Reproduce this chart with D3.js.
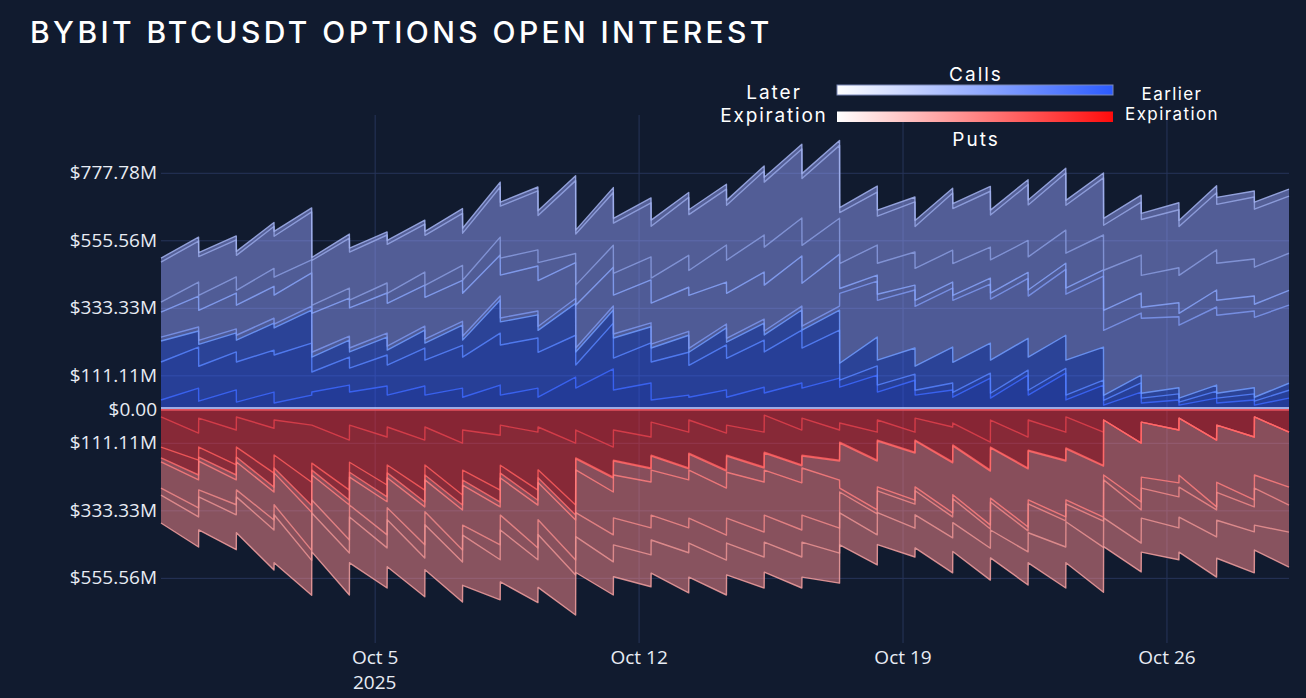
<!DOCTYPE html>
<html>
<head>
<meta charset="utf-8">
<script src="https://cdn.jsdelivr.net/npm/d3@7"></script>
<style>
  html, body { margin: 0; background: #111b2f; }
  svg { display: block; }
</style>
</head>
<body>
<svg id="chart" width="1306" height="698"></svg>
<script>
// trading sessions: each runs 08:00 UTC -> next day 08:00 UTC (daily expiry)
const sessionDays = [
  "2025-09-29", "2025-09-30", "2025-10-01", "2025-10-02", "2025-10-03",
  "2025-10-04", "2025-10-05", "2025-10-06", "2025-10-07", "2025-10-08",
  "2025-10-09", "2025-10-10", "2025-10-11", "2025-10-12", "2025-10-13",
  "2025-10-14", "2025-10-15", "2025-10-16", "2025-10-17", "2025-10-18",
  "2025-10-19", "2025-10-20", "2025-10-21", "2025-10-22", "2025-10-23",
  "2025-10-24", "2025-10-25", "2025-10-26", "2025-10-27", "2025-10-28",
];
const lastSample = "2025-10-29T06:00:00Z";

// open interest in $M, pairs of [session open, session close], earliest expiry first
const callsA = [30,69, 26,63, 23,56, 20,46, 56,79, 56,76, 46,76, 46,69, 39,79, 46,69,
  39,105, 69,132, 63,86, 30,46, 39,63, 39,72, 53,86, 69,102, 72,112, 56,95,
  46,63, 39,102, 36,112, 46,118, 30,79, 13,56, 20,30, 13,36, 20,30, 13,36];
const callsB = [125,135, 115,125, 132,138, 158,171, 66,92, 79,102, 99,125, 115,141, 132,171, 165,165,
  148,138, 76,151, 105,132, 125,141, 105,148, 128,155, 135,174, 132,158, 23,30, 23,20,
  16,23, 16,16, 16,16, 16,16, 16,16, 16,30, 16,20, 10,23, 16,20, 13,26];
const callsC = [69,53, 72,63, 72,89, 89,109, 49,56, 53,59, 49,59, 56,66, 56,109, 76,76,
  72,105, 43,43, 66,53, 46,56, 43,56, 53,56, 56,66, 59,66, 56,95, 82,86,
  79,118, 99,99, 109,105, 109,109, 115,109, 16,26, 16,20, 13,20, 16,20, 13,23];
const callsD = [13,13, 13,13, 16,16, 13,13, 16,13, 13,13, 13,13, 13,13, 13,13, 13,13,
  13,16, 13,13, 13,13, 13,13, 13,13, 13,13, 13,13, 13,13, 230,184, 197,191,
  197,194, 204,194, 201,197, 201,217, 217,234, 214,204, 247,234, 240,257, 257,253, 263,257];
const callsE = [82,102, 99,118, 99,105, 95,109, 128,125, 132,132, 141,135, 138,135, 141,135, 141,148,
  151,118, 141,128, 128,141, 135,145, 174,138, 148,155, 151,165, 141,171, 16,20, 20,16,
  20,20, 16,20, 20,20, 20,20, 20,20, 66,66, 36,46, 39,56, 49,49, 43,49];
const callsF = [33,46, 49,53, 49,59, 59,43, 26,33, 26,33, 33,43, 39,49, 43,59, 56,53,
  59,30, 66,72, 72,76, 82,105, 82,122, 109,122, 125,125, 125,118, 82,99, 102,109,
  105,105, 105,102, 109,105, 109,109, 115,115, 132,125, 105,115, 125,132, 122,122, 122,122];
const callsG = [132,135, 128,122, 115,138, 135,158, 148,165, 158,158, 161,158, 165,171, 155,165, 171,194,
  155,240, 168,174, 165,178, 171,191, 184,184, 181,211, 214,227, 220,240, 168,174, 155,165,
  138,188, 181,184, 148,184, 171,188, 158,188, 148,174, 184,191, 161,188, 194,204, 191,188];
const callsH = [13,13, 13,13, 13,13, 16,13, 10,13, 13,10, 13,13, 13,16, 16,16, 13,13,
  16,16, 13,16, 16,16, 20,16, 16,16, 16,16, 16,16, 16,16, 16,20, 20,16,
  20,16, 16,16, 16,16, 16,16, 16,16, 23,23, 20,23, 20,23, 23,20, 23,23];

const putsA = [26,79, 30,69, 26,63, 36,53, 53,102, 53,92, 59,102, 59,112, 69,86, 53,76,
  59,112, 69,125, 69,92, 43,76, 36,79, 53,76, 20,69, 30,69, 46,76, 36,76,
  30,59, 46,109, 36,92, 36,76, 26,76, 36,112, 43,69, 30,102, 53,92, 26,76];
const putsB = [99,89, 95,115, 99,148, 115,188, 125,165, 122,158, 125,165, 125,171, 132,181, 132,191,
  141,204, 92,99, 99,102, 109,118, 109,122, 99,115, 122,115, 122,99, 63,92, 66,66,
  72,115, 72,92, 89,102, 99,92, 102,109, 0,0, 0,0, 0,0, 0,0, 0,0];
const putsC = [36,49, 33,33, 33,46, 43,76, 23,33, 33,39, 26,39, 33,33, 33,39, 26,33,
  26,33, 3,3, 3,3, 3,3, 3,3, 3,3, 3,3, 3,3, 3,3, 3,3,
  3,3, 3,3, 3,3, 3,3, 3,3, 0,0, 0,0, 0,0, 0,0, 0,0];
const putsD = [13,16, 13,16, 16,16, 16,23, 16,16, 16,16, 16,16, 16,16, 16,16, 16,16,
  16,16, 36,46, 46,43, 46,36, 53,56, 53,46, 56,56, 39,63, 148,161, 151,155,
  151,165, 161,178, 165,191, 161,184, 168,168, 181,194, 181,174, 188,220, 188,207, 191,181];
const putsE = [86,92, 95,82, 92,92, 105,125, 82,115, 92,109, 99,125, 105,132, 132,125, 122,141,
  122,132, 141,141, 141,151, 148,158, 158,155, 151,165, 148,155, 155,158, 13,13, 13,13,
  13,13, 13,13, 13,13, 13,13, 13,13, 16,26, 36,46, 39,10, 33,23, 43,59];
const putsF = [23,30, 23,33, 23,33, 33,33, 43,43, 39,43, 39,43, 43,39, 33,49, 49,39,
  49,49, 79,89, 89,89, 82,82, 82,82, 82,82, 89,89, 89,82, 69,69, 72,79,
  79,69, 79,63, 92,69, 95,86, 59,86, 125,109, 99,102, 99,89, 92,82, 122,89];
const putsG = [92,99, 109,115, 118,132, 158,115, 128,138, 151,132, 155,128, 148,132, 165,132, 171,141,
  174,132, 118,109, 105,105, 109,132, 112,115, 105,102, 99,102, 115,99, 105,99, 105,95,
  109,115, 95,105, 92,109, 99,135, 135,148, 95,95, 112,105, 115,132, 125,135, 82,115];

const yTickValues = [777.78, 555.56, 333.33, 111.11, 0, -111.11, -333.33, -555.56];
const xTickDates = ["2025-10-05", "2025-10-12", "2025-10-19", "2025-10-26"];
const yearLabel = "2025";

const callFills = ["rgba(54,92,255,0.5)", "rgba(62,100,255,0.5)", "rgba(70,108,255,0.5)",
  "rgba(140,153,254,0.5)", "rgba(142,155,254,0.5)", "rgba(144,157,254,0.5)",
  "rgba(147,160,254,0.5)", "rgba(152,164,254,0.5)"];
const callStrokes = ["#3d69ff", "#5784ff", "#709bff", "#7e98f0", "#88a4fa", "#8a9ce0", "#97a7e6", "#a2b2ee"];
const putFills = ["rgba(254,48,58,0.5)", "rgba(254,56,64,0.5)", "rgba(254,62,70,0.5)",
  "rgba(255,130,136,0.5)", "rgba(255,133,138,0.5)", "rgba(255,136,140,0.5)", "rgba(255,139,143,0.5)"];
const putStrokes = ["#e2414c", "#ff5d5d", "#ff6c6c", "#ff7f7f", "#f28a8a", "#ec9494", "#f2a0a0"];

const sampleTimes = sessionDays.flatMap((day, i) => {
  const open = new Date(day + "T08:00:00Z");
  const close = i < sessionDays.length - 1
    ? new Date(sessionDays[i + 1] + "T07:55:00Z")
    : new Date(lastSample);
  return [open, close];
});

function toRows(layers) {
  return sampleTimes.map((t, i) => {
    const row = { t };
    layers.forEach((arr, k) => (row[k] = arr[i]));
    return row;
  });
}

const callLayers = [callsA, callsB, callsC, callsD, callsE, callsF, callsG, callsH];
const putLayers = [putsA, putsB, putsC, putsD, putsE, putsF, putsG];

const callStack = d3.stack().keys(d3.range(callLayers.length))(toRows(callLayers));
const putStack = d3.stack().keys(d3.range(putLayers.length))(toRows(putLayers));

const plot = { left: 161, right: 1289, top: 115, bottom: 643 };

const x = d3.scaleUtc()
  .domain(d3.extent(sampleTimes))
  .range([plot.left, plot.right]);

const y = d3.scaleLinear()
  .domain([-770, 968])
  .range([plot.bottom, plot.top]);

const svg = d3.select("#chart");

svg.append("rect")
  .attr("width", 1306).attr("height", 698)
  .attr("fill", "#111b2f");

// grid
const gridY = svg.append("g")
  .attr("transform", `translate(${plot.left},0)`)
  .call(d3.axisLeft(y).tickValues(yTickValues.filter((v) => v !== 0))
    .tickSize(-(plot.right - plot.left)).tickFormat(""));
gridY.select(".domain").remove();
gridY.selectAll("line").attr("stroke", "#27355a").attr("stroke-width", 1);

const xTicks = xTickDates.map((d) => new Date(d + "T00:00:00Z"));
const gridX = svg.append("g")
  .attr("transform", `translate(0,${plot.bottom})`)
  .call(d3.axisBottom(x).tickValues(xTicks)
    .tickSize(-(plot.bottom - plot.top)).tickFormat(""));
gridX.select(".domain").remove();
gridX.selectAll("line").attr("stroke", "#27355a").attr("stroke-width", 1);

// calls (up) and puts (down)
const callArea = d3.area()
  .x((d) => x(d.data.t))
  .y0((d) => y(d[0]))
  .y1((d) => y(d[1]));
const putArea = d3.area()
  .x((d) => x(d.data.t))
  .y0((d) => y(-d[0]))
  .y1((d) => y(-d[1]));

svg.append("g").selectAll("path")
  .data(callStack)
  .join("path")
  .attr("d", callArea)
  .attr("fill", (d, i) => callFills[i]);

svg.append("g").selectAll("path")
  .data(putStack)
  .join("path")
  .attr("d", putArea)
  .attr("fill", (d, i) => putFills[i]);

const callLine = d3.line().x((d) => x(d.data.t)).y((d) => y(d[1]));
const putLine = d3.line().x((d) => x(d.data.t)).y((d) => y(-d[1]));

svg.append("g").selectAll("path")
  .data(callStack)
  .join("path")
  .attr("d", callLine)
  .attr("fill", "none")
  .attr("stroke", (d, i) => callStrokes[i])
  .attr("stroke-opacity", 0.85)
  .attr("stroke-width", 1.4)
  .attr("stroke-linejoin", "round");

svg.append("g").selectAll("path")
  .data(putStack)
  .join("path")
  .attr("d", putLine)
  .attr("fill", "none")
  .attr("stroke", (d, i) => putStrokes[i])
  .attr("stroke-opacity", 0.85)
  .attr("stroke-width", 1.4)
  .attr("stroke-linejoin", "round");

// zero baselines of the two stacks
svg.append("line")
  .attr("x1", plot.left).attr("x2", plot.right)
  .attr("y1", y(0) - 1).attr("y2", y(0) - 1)
  .attr("stroke", "#c9d3ff").attr("stroke-width", 1.5);
svg.append("line")
  .attr("x1", plot.left).attr("x2", plot.right)
  .attr("y1", y(0) + 0.8).attr("y2", y(0) + 0.8)
  .attr("stroke", "#e2505c").attr("stroke-width", 1.6);

// axes labels
const fmt = (v) => (v === 0 ? "$0.00" : `$${Math.abs(v).toFixed(2)}M`);
const yAxis = svg.append("g")
  .attr("transform", `translate(${plot.left},0)`)
  .call(d3.axisLeft(y).tickValues(yTickValues).tickSize(0).tickPadding(4).tickFormat(fmt));
yAxis.select(".domain").remove();
yAxis.selectAll("text")
  .attr("fill", "#e8ecf4")
  .style("font-family", "'Open Sans', sans-serif")
  .style("font-size", "19px");

const xAxis = svg.append("g")
  .attr("transform", `translate(0,${plot.bottom})`)
  .call(d3.axisBottom(x).tickValues(xTicks).tickSize(0).tickPadding(8)
    .tickFormat(d3.utcFormat("%b %-d")));
xAxis.select(".domain").remove();
xAxis.selectAll("text")
  .attr("fill", "#e8ecf4")
  .style("font-family", "'Open Sans', sans-serif")
  .style("font-size", "19px");

// year under the first date tick
svg.append("text")
  .attr("x", x(xTicks[0]))
  .attr("y", 689)
  .attr("text-anchor", "middle")
  .attr("fill", "#e8ecf4")
  .style("font-family", "'Open Sans', sans-serif")
  .style("font-size", "19px")
  .text(yearLabel);

// title
svg.append("text")
  .attr("x", 30).attr("y", 43)
  .attr("fill", "#ffffff")
  .style("font-family", "Inter, sans-serif")
  .style("font-size", "30px")
  .style("font-weight", 500)
  .style("letter-spacing", "3.4px")
  .text("BYBIT BTCUSDT OPTIONS OPEN INTEREST");

// legend
const defs = svg.append("defs");
const gCall = defs.append("linearGradient").attr("id", "gradCalls");
gCall.append("stop").attr("offset", "0%").attr("stop-color", "#ffffff");
gCall.append("stop").attr("offset", "100%").attr("stop-color", "#2b5bff");
const gPut = defs.append("linearGradient").attr("id", "gradPuts");
gPut.append("stop").attr("offset", "0%").attr("stop-color", "#ffffff");
gPut.append("stop").attr("offset", "100%").attr("stop-color", "#ff0c0c");

const legend = svg.append("g");
legend.append("rect")
  .attr("x", 837).attr("y", 85).attr("width", 276).attr("height", 10)
  .attr("fill", "url(#gradCalls)")
  .attr("stroke", "#7b88b8").attr("stroke-width", 1);
legend.append("rect")
  .attr("x", 837).attr("y", 111.5).attr("width", 276).attr("height", 10.5)
  .attr("fill", "url(#gradPuts)");

const legendText = (tx, ty, str, size, spacing) =>
  legend.append("text")
    .attr("x", tx).attr("y", ty)
    .attr("text-anchor", "middle")
    .attr("fill", "#ffffff")
    .style("font-family", "Inter, sans-serif")
    .style("font-size", size + "px")
    .style("letter-spacing", spacing + "px")
    .text(str);

legendText(976, 81, "Calls", 19, 2);
legendText(976, 146, "Puts", 19, 2);
legendText(774, 99, "Later", 19, 2);
legendText(774, 122, "Expiration", 19, 1.8);
legendText(1172, 100, "Earlier", 17, 1.4);
legendText(1172, 120, "Expiration", 17, 1.4);
</script>
</body>
</html>
